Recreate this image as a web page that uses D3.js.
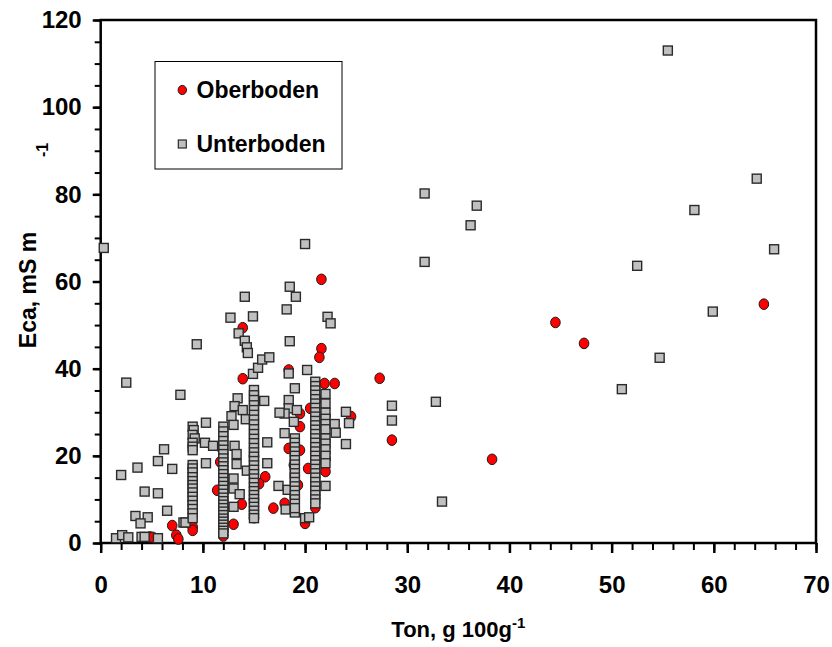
<!DOCTYPE html>
<html>
<head>
<meta charset="utf-8">
<script src="https://cdn.jsdelivr.net/npm/d3@7"></script>
<style>
  body { margin: 0; background: #fff; }
  text { font-family: "Liberation Sans", Arial, sans-serif; font-weight: bold; fill: #000; }
</style>
</head>
<body>
<svg id="chart" width="832" height="647"></svg>
<script>
// --- data (Ton g/100g, Eca mS/m) ---
const xTicks = [0, 10, 20, 30, 40, 50, 60, 70];
const yTicks = [0, 20, 40, 60, 80, 100, 120];
const seriesNames = ["Oberboden", "Unterboden"];

const oberboden = [
  [27.3, 37.8], [28.5, 23.6], [38.3, 19.2], [44.5, 50.6], [47.3, 45.8], [64.9, 54.8],
  [21.6, 60.5], [21.6, 44.6], [21.4, 42.6], [13.9, 49.4], [13.9, 37.7],
  [11.4, 12.1], [13.8, 8.9], [13.0, 4.3], [12.0, 1.6], [11.7, 22.1], [11.7, 18.6],
  [12.0, 14.0], [12.0, 8.0], [16.1, 15.2], [15.5, 13.6], [15.0, 9.9], [15.0, 5.8],
  [15.0, 20.0], [16.9, 8.0], [7.0, 4.0], [7.4, 1.8], [7.6, 0.9], [9.0, 3.7], [9.0, 2.9],
  [4.8, 1.4], [5.1, 1.3], [18.4, 39.7], [21.9, 36.6], [22.9, 36.6], [21.9, 33.0],
  [19.5, 26.7], [20.5, 30.9], [19.5, 29.7], [18.4, 21.7], [19.5, 21.3], [18.9, 17.9],
  [20.3, 17.1], [19.3, 13.3], [19.0, 10.6], [18.0, 9.1], [20.0, 4.5], [21.0, 8.1],
  [22.0, 16.4], [22.0, 19.4], [21.5, 19.4], [24.5, 29.0], [21.0, 28.0], [21.0, 24.0],
  [19.0, 15.5]
];

const unterboden = [
  // scattered, low clay
  [0.3, 67.7], [2.5, 36.8], [7.8, 34.0], [9.4, 45.6],
  [10.3, 27.6], [10.2, 23.0], [11.0, 22.3], [10.3, 18.3],
  [6.2, 21.5], [5.6, 18.8], [7.0, 17.0], [3.6, 17.3], [2.0, 15.6], [4.3, 11.8],
  [5.6, 11.4], [6.5, 7.4], [3.4, 6.2], [4.6, 5.9], [3.9, 4.5], [8.1, 4.7], [8.3, 4.7],
  [1.5, 1.1], [2.1, 1.8], [2.7, 1.3], [4.0, 1.4], [4.3, 1.4], [5.6, 1.1],
  // column at 9
  [9.0, 26.7], [9.1, 25.9], [9.0, 24.8], [9.2, 24.0], [9.0, 23.0], [9.0, 22.1], [9.0, 21.3],
  [9.0, 17.9], [9.0, 17.1], [9.0, 16.2], [9.0, 15.1], [9.0, 14.2], [9.0, 13.3], [9.0, 12.5],
  [9.0, 11.6], [9.0, 10.6], [9.0, 9.7], [9.0, 8.7], [9.0, 7.8], [9.0, 6.8], [9.0, 5.7],
  // column at 12
  [12.0, 26.7], [12.0, 25.6], [12.0, 24.5], [12.0, 23.4], [12.0, 22.4], [12.0, 21.4],
  [12.0, 20.4], [12.0, 19.4], [12.0, 18.5], [12.0, 17.6], [12.0, 16.7], [12.0, 15.8],
  [12.0, 14.9], [12.0, 14.0], [12.0, 13.1], [12.0, 12.2], [12.0, 11.3], [12.0, 10.4],
  [12.0, 9.6], [12.0, 8.8], [12.0, 8.0], [12.0, 7.2], [12.0, 6.4], [12.0, 5.6],
  [12.0, 4.9], [12.0, 4.2], [12.0, 3.5], [12.0, 2.8], [12.0, 2.2],
  // around 13-14
  [12.7, 51.7], [14.1, 56.5], [14.9, 52.0], [13.5, 48.1], [14.1, 46.4], [14.3, 44.9], [14.4, 43.6],
  [13.4, 33.2], [13.1, 31.4], [13.9, 30.5], [14.2, 28.4], [12.8, 29.1], [13.0, 27.1],
  [13.1, 22.3], [13.3, 20.4], [13.3, 18.1], [13.0, 14.8], [13.0, 12.5], [13.6, 11.2],
  [13.0, 8.3], [14.3, 16.6],
  // column at 15
  [15.0, 35.1], [15.0, 33.9], [15.0, 32.8], [15.0, 31.6], [15.0, 30.5], [15.0, 29.4],
  [15.0, 28.3], [15.0, 27.2], [15.0, 26.1], [15.0, 25.0], [15.0, 23.9], [15.0, 22.9],
  [15.0, 21.8], [15.0, 20.8], [15.0, 19.8], [15.0, 18.8], [15.0, 17.8], [15.0, 16.8],
  [15.0, 15.8], [15.0, 14.8], [15.0, 13.8], [15.0, 12.8], [15.0, 11.9], [15.0, 11.0],
  [15.0, 10.1], [15.0, 9.2], [15.0, 8.3], [15.0, 7.4], [15.0, 6.5], [15.0, 5.7],
  [14.9, 38.8], [15.4, 40.2], [15.8, 42.1], [16.5, 42.6], [16.0, 32.6], [16.3, 23.1], [16.3, 18.3],
  [17.4, 13.1], [18.3, 12.2], [18.1, 7.7], [19.0, 7.0], [20.0, 5.7], [20.4, 5.9],
  // around 18-20
  [18.5, 58.8], [19.1, 56.5], [18.2, 53.6], [18.5, 46.3], [20.0, 68.6], [20.2, 39.7],
  [18.4, 38.9], [18.4, 32.8], [18.4, 30.9], [19.2, 30.5], [19.0, 35.5], [18.0, 29.7],
  [17.5, 29.9], [18.0, 25.2], [18.9, 27.8],
  // column at 19
  [19.0, 24.0], [19.0, 23.0], [19.0, 22.0], [19.0, 21.0], [19.0, 20.0], [19.0, 19.0],
  [19.0, 18.0], [19.0, 17.0], [19.0, 16.0], [19.0, 15.0], [19.0, 14.0], [19.0, 13.0],
  [19.0, 12.0], [19.0, 11.0], [19.0, 10.0], [19.0, 9.0], [19.0, 8.0],
  // column at 21
  [21.0, 37.0], [21.0, 36.0], [21.0, 35.0], [21.0, 34.0], [21.0, 33.0], [21.0, 32.0],
  [21.0, 31.0], [21.0, 30.0], [21.0, 29.0], [21.0, 28.0], [21.0, 27.0], [21.0, 26.0],
  [21.0, 25.0], [21.0, 24.0], [21.0, 23.0], [21.0, 22.0], [21.0, 21.0], [21.0, 20.0],
  [21.0, 19.0], [21.0, 18.0], [21.0, 17.0], [21.0, 16.0], [21.0, 15.0], [21.0, 14.0],
  [21.0, 13.0], [21.0, 12.0], [21.0, 11.0], [21.0, 10.0], [21.0, 9.1],
  // column at 22
  [22.0, 34.2], [22.0, 32.0], [22.0, 29.9], [22.0, 28.5], [22.0, 27.3], [22.0, 26.1],
  [22.0, 24.0], [22.0, 22.8], [22.0, 21.5], [22.0, 20.0], [22.0, 18.3], [22.0, 13.1],
  [22.2, 51.9], [22.5, 50.4], [22.9, 27.3], [23.0, 25.3], [24.0, 30.1], [24.3, 27.5], [24.0, 22.7],
  // higher clay
  [28.5, 31.5], [28.5, 28.1], [32.8, 32.4], [33.4, 9.5], [31.7, 64.5], [31.7, 80.2],
  [36.2, 72.9], [36.8, 77.4], [55.5, 113.0], [64.2, 83.6], [58.1, 76.4], [65.9, 67.4],
  [52.5, 63.6], [59.9, 53.1], [54.7, 42.5], [51.0, 35.3]
];

// --- layout ---
const PLOT = { left: 100.7, right: 816, top: 20, bottom: 543 };
const svg = d3.select("#chart");

const x = d3.scaleLinear().domain([0, 70]).range([PLOT.left, PLOT.right]);
const y = d3.scaleLinear().domain([0, 120]).range([PLOT.bottom, PLOT.top]);

// minor ticks
svg.append("g")
  .attr("transform", `translate(0,${PLOT.bottom})`)
  .call(d3.axisBottom(x).tickValues(d3.range(0, 71, 2)).tickSize(7).tickFormat(""))
  .call(g => g.select(".domain").remove())
  .selectAll("line").attr("stroke", "#000").attr("stroke-width", 2);

svg.append("g")
  .attr("transform", `translate(${PLOT.left},0)`)
  .call(d3.axisLeft(y).tickValues(d3.range(0, 121, 5)).tickSize(6).tickFormat(""))
  .call(g => g.select(".domain").remove())
  .selectAll("line").attr("stroke", "#000").attr("stroke-width", 2);

// major ticks + labels
const xAxis = svg.append("g")
  .attr("transform", `translate(0,${PLOT.bottom})`)
  .call(d3.axisBottom(x).tickValues(xTicks).tickSize(10).tickPadding(23).tickSizeOuter(0));
xAxis.select(".domain").remove();
xAxis.selectAll("line").attr("stroke", "#000").attr("stroke-width", 2.5);
xAxis.selectAll("text").style("font-size", "24px").attr("fill", "#000");

const yAxis = svg.append("g")
  .attr("transform", `translate(${PLOT.left},0)`)
  .call(d3.axisLeft(y).tickValues(yTicks).tickSize(8).tickPadding(11).tickSizeOuter(0));
yAxis.select(".domain").remove();
yAxis.selectAll("line").attr("stroke", "#000").attr("stroke-width", 2.5);
yAxis.selectAll("text").style("font-size", "24px").attr("fill", "#000");

// frame
svg.append("rect")
  .attr("x", PLOT.left).attr("y", PLOT.top)
  .attr("width", PLOT.right - PLOT.left).attr("height", PLOT.bottom - PLOT.top)
  .attr("fill", "none").attr("stroke", "#000").attr("stroke-width", 2.5);

// points: Oberboden behind, Unterboden on top
svg.append("g").selectAll("ellipse")
  .data(oberboden).enter().append("ellipse")
  .attr("cx", d => x(d[0])).attr("cy", d => y(d[1]))
  .attr("rx", 4.8).attr("ry", 5.3)
  .attr("fill", "#ff0000").attr("stroke", "#1a1a1a").attr("stroke-width", 1);

const SQ = 9;
svg.append("g").selectAll("rect")
  .data(unterboden).enter().append("rect")
  .attr("x", d => x(d[0]) - SQ / 2).attr("y", d => y(d[1]) - SQ / 2)
  .attr("width", SQ).attr("height", SQ)
  .attr("fill", "#c0c0c0").attr("stroke", "#2a2a2a").attr("stroke-width", 1.4);

// legend
const legend = svg.append("g");
legend.append("rect")
  .attr("x", 155).attr("y", 61.5).attr("width", 187).attr("height", 107.5)
  .attr("fill", "#fff").attr("stroke", "#000").attr("stroke-width", 1);
legend.append("ellipse")
  .attr("cx", 182.3).attr("cy", 90).attr("rx", 4.2).attr("ry", 4.6)
  .attr("fill", "#ff0000").attr("stroke", "#1a1a1a").attr("stroke-width", 1);
legend.append("rect")
  .attr("x", 178.3).attr("y", 140).attr("width", 8).attr("height", 8)
  .attr("fill", "#c0c0c0").attr("stroke", "#2a2a2a").attr("stroke-width", 1.2);
legend.selectAll("text.lbl")
  .data(seriesNames).enter().append("text")
  .attr("class", "lbl")
  .attr("x", 196.5)
  .attr("y", (d, i) => i === 0 ? 97.7 : 152.3)
  .style("font-size", "23px")
  .text(d => d);

// axis titles
const xTitle = svg.append("text")
  .attr("x", (PLOT.left + PLOT.right) / 2).attr("y", 637)
  .attr("text-anchor", "middle")
  .style("font-size", "22px");
xTitle.append("tspan").text("Ton, g 100g");
xTitle.append("tspan").attr("dy", -9).style("font-size", "15px").text("-1");

svg.append("text")
  .attr("transform", "translate(36,290) rotate(-90)")
  .attr("text-anchor", "middle")
  .style("font-size", "23px")
  .text("Eca, mS m");

svg.append("text")
  .attr("transform", "translate(48,150) rotate(-90)")
  .attr("text-anchor", "middle")
  .style("font-size", "16px")
  .text("-1");
</script>
</body>
</html>
